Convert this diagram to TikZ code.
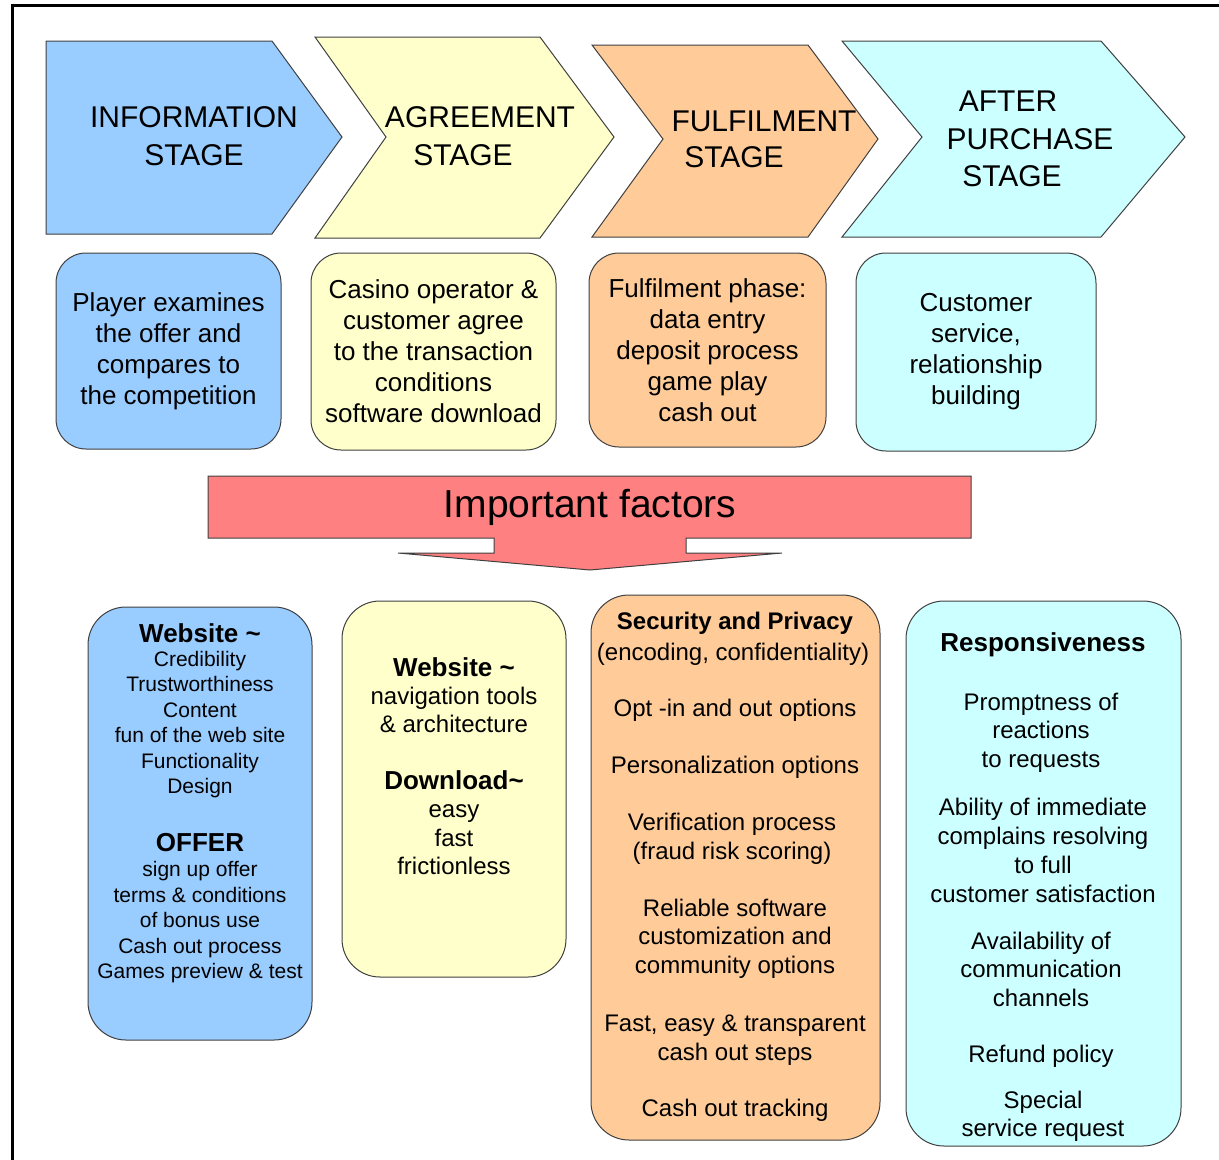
\documentclass[tikz,border=0pt]{standalone}
\usepackage{fontspec}
\setmainfont{Liberation Sans}
\definecolor{cblue}{HTML}{99CCFF}
\definecolor{cyel}{HTML}{FFFFCC}
\definecolor{corg}{HTML}{FFCC99}
\definecolor{ccyan}{HTML}{CCFFFF}
\definecolor{cred}{HTML}{FF8080}
\begin{document}
\begin{tikzpicture}[x=1pt,y=-1pt,
  chev/.style={draw=black!75, line width=1pt, line join=miter},
  stagetxt/.style={inner sep=0pt, font=\fontsize{30}{38}\selectfont},
  rowbox/.style={draw=black!75, line width=1pt, rounded corners=30pt, align=center, inner sep=0pt, font=\fontsize{26}{31}\selectfont},
  bigbox/.style={draw=black!75, line width=1pt, rounded corners=38pt, inner sep=0pt},
  ftxt/.style={align=center, inner sep=0pt, font=\fontsize{24}{28.5}\selectfont},
  stxt/.style={align=center, inner sep=0pt, font=\fontsize{21}{25.5}\selectfont},
  fhead/.style={inner sep=0pt, font=\fontsize{26}{30}\bfseries\selectfont},
  shead/.style={inner sep=0pt, font=\fontsize{24}{28}\bfseries\selectfont}]
\useasboundingbox (0,0) rectangle (1219,1160);
% frame
\draw[line width=3pt] (12,1160) -- (12,5) -- (1219,5);
% chevrons
\filldraw[chev, fill=cblue] (46,41) -- (272,41) -- (342,137) -- (272,234) -- (46,234) -- cycle;
\filldraw[chev, fill=cyel] (315,37) -- (540,37) -- (614,137) -- (540,238) -- (315,238) -- (386,137) -- cycle;
\filldraw[chev, fill=corg] (592,45) -- (808,45) -- (878,139) -- (808,237) -- (592,237) -- (663,139) -- cycle;
\filldraw[chev, fill=ccyan] (842,41) -- (1101,41) -- (1185,137) -- (1101,237) -- (842,237) -- (922,137) -- cycle;
\node[stagetxt] (s1a) at (194,117) {INFORMATION};
\node[stagetxt] (s1b) at (194,155) {STAGE};
\node[stagetxt] (s2a) at (480,117) {AGREEMENT};
\node[stagetxt] (s2b) at (463,155) {STAGE};
\node[stagetxt] (s3a) at (764,121) {FULFILMENT};
\node[stagetxt] (s3b) at (734,157) {STAGE};
\node[stagetxt] (s4a) at (1008,101) {AFTER};
\node[stagetxt] (s4b) at (1030,139) {PURCHASE};
\node[stagetxt] (s4c) at (1012,176) {STAGE};
% row boxes
\node[rowbox, fill=cblue, minimum width=225pt, minimum height=196pt] (b1) at (168.5,351) {Player examines\\the offer and\\compares to\\the competition};
\node[rowbox, fill=cyel, minimum width=245pt, minimum height=197pt] (b2) at (433.5,351.5) {Casino operator \&\\customer agree\\to the transaction\\conditions\\software download};
\node[rowbox, fill=corg, minimum width=237pt, minimum height=194pt] (b3) at (707.5,350) {Fulfilment phase:\\data entry\\deposit process\\game play\\cash out};
\node[rowbox, fill=ccyan, minimum width=240pt, minimum height=198pt] (b4) at (976,352) {Customer\\service,\\relationship\\building};
% important factors arrow
\filldraw[draw=black!75, line width=1pt, fill=cred] (208,476) -- (971,476) -- (971,538) -- (686,538) -- (686,553) -- (782,553) -- (590,570) -- (398,553) -- (494,553) -- (494,538) -- (208,538) -- cycle;
\node[inner sep=0pt, font=\fontsize{39}{44}\selectfont] (imp) at (590,507) {Important factors};
% bottom boxes
\node[bigbox, fill=cblue, minimum width=224pt, minimum height=433pt] (c1) at (200,823.5) {};
\node[bigbox, fill=cyel, minimum width=224pt, minimum height=376pt] (c2) at (454,789) {};
\node[bigbox, fill=corg, minimum width=289pt, minimum height=545pt] (c3) at (735.5,867.5) {};
\node[bigbox, fill=ccyan, minimum width=275pt, minimum height=545pt] (c4) at (1043.5,873.5) {};
% box 1 text
\node[fhead] (c1h1) at (200,633) {Website \textasciitilde};
\node[stxt] (c1t1) at (200,724.5) {Credibility\\Trustworthiness\\Content\\fun of the web site\\Functionality\\Design};
\node[fhead] (c1h2) at (200,843) {OFFER};
\node[stxt] (c1t2) at (200,922.5) {sign up offer\\terms \& conditions\\of bonus use\\Cash out process\\Games preview \& test};
% box 2 text
\node[fhead] (c2h1) at (454,667) {Website \textasciitilde};
\node[ftxt] (c2t1) at (454,710) {navigation tools\\\& architecture};
\node[fhead] (c2h2) at (454,780) {Download\textasciitilde};
\node[ftxt] (c2t2) at (454,840) {easy\\fast\\frictionless};
% box 3 text
\node[shead] (c3h) at (735,623) {Security and Privacy};
\node[ftxt] (c3t0) at (733,654) {(encoding, confidentiality)};
\node[ftxt] (c3t1) at (735,710) {Opt -in and out options};
\node[ftxt] (c3t2) at (735,767) {Personalization options};
\node[ftxt] (c3t3) at (732,839) {Verification process\\(fraud risk scoring)};
\node[ftxt] (c3t4) at (735,938.5) {Reliable software\\customization and\\community options};
\node[ftxt] (c3t5) at (735,1040) {Fast, easy \& transparent\\cash out steps};
\node[ftxt] (c3t6) at (735,1110) {Cash out tracking};
% box 4 text
\node[fhead] (c4h) at (1043,645) {Responsiveness};
\node[ftxt] (c4t1) at (1041,732.5) {Promptness of\\reactions\\to requests};
\node[ftxt, font=\fontsize{24}{29}\selectfont] (c4t2) at (1043,850.5) {Ability of immediate\\complains resolving\\to full\\customer satisfaction};
\node[ftxt] (c4t3) at (1041,969) {Availability of\\communication\\channels};
\node[ftxt] (c4t4) at (1041,1056) {Refund policy};
\node[ftxt] (c4t5) at (1043,1116.5) {Special\\service request};
\end{tikzpicture}
\end{document}
